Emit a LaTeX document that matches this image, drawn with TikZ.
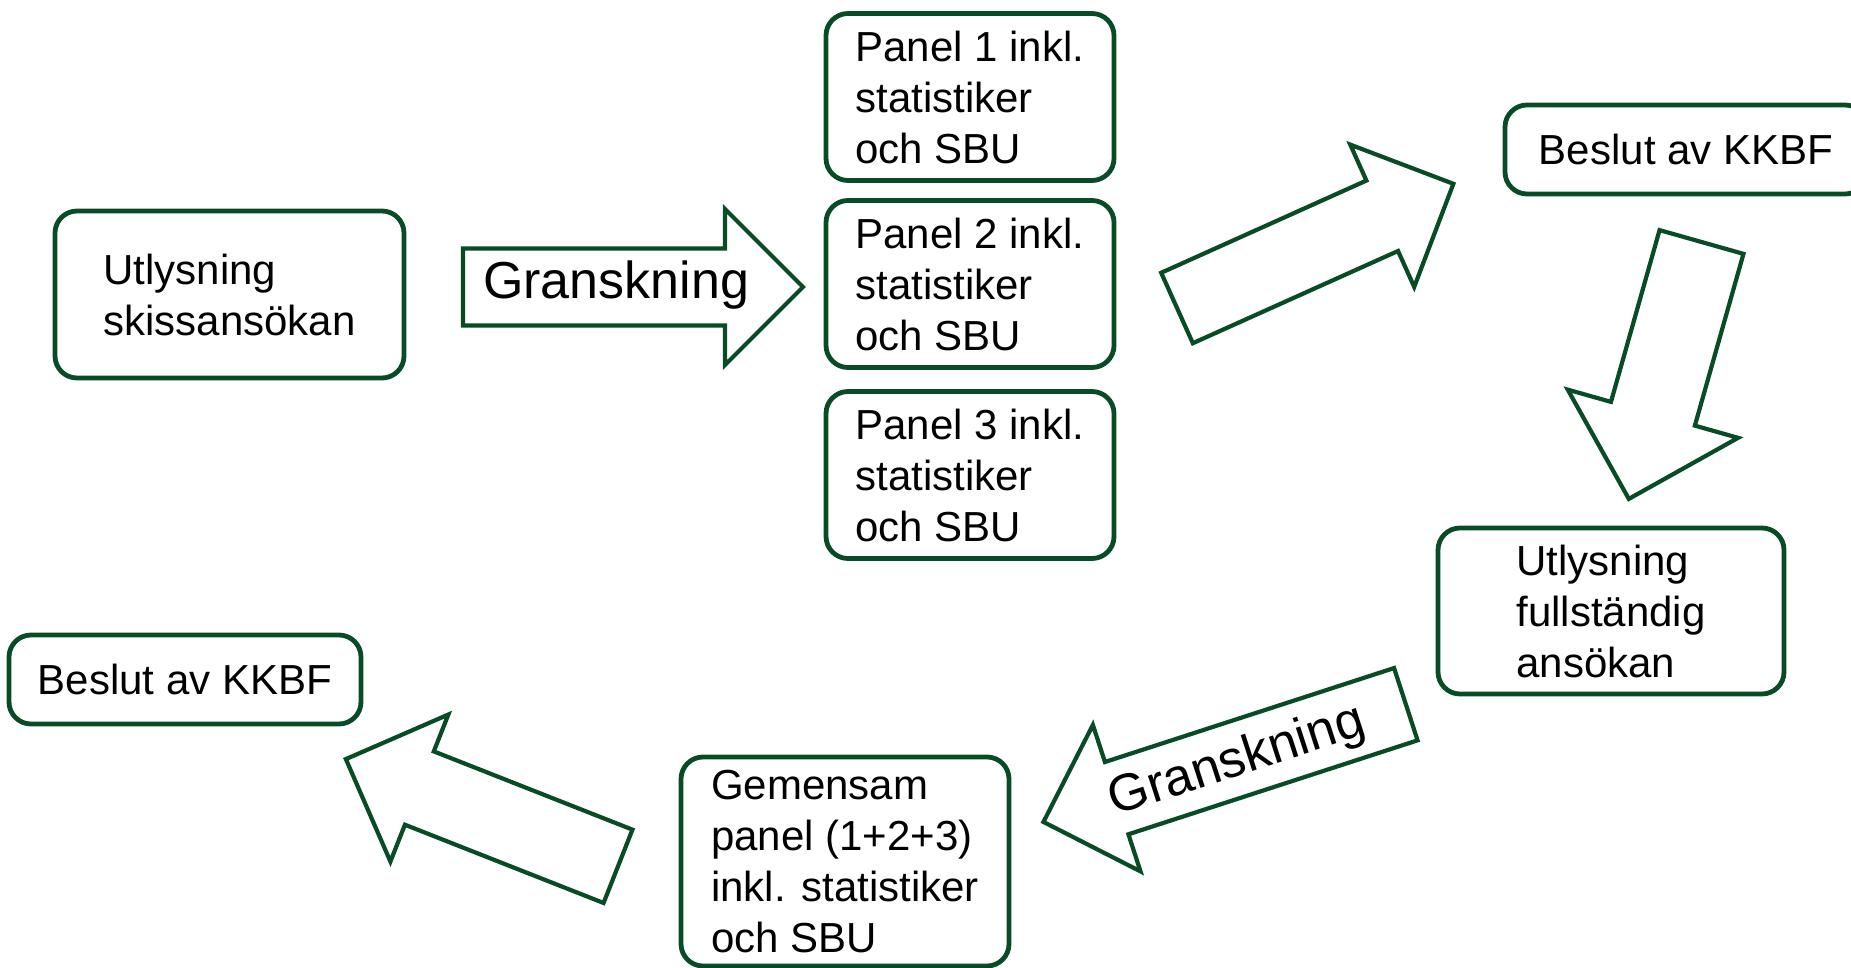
\documentclass[tikz,border=0pt]{standalone}
\usepackage{fontspec}
\setmainfont{Liberation Sans}
\usepackage{xcolor}
\usetikzlibrary{positioning}
\definecolor{boxgreen}{RGB}{8,76,38}
\tikzset{
  stepbox/.style={
      draw=boxgreen,
      line width=2.4pt,
      rounded corners=11pt,
      align=left,
      inner sep=0pt,
      font=\fontsize{21}{25.5}\selectfont
    },
  panelbox/.style={
      stepbox,
      minimum width=144pt,
      minimum height=83.5pt
    },
  arrowtext/.style={font=\fontsize{26}{30}\selectfont},
  pics/blockpil/.style args={#1/#2/#3}{
      code={
          \draw[draw=boxgreen,line width=2.1pt,line join=miter]
          (0,-#2) -- (#1-#3,-#2) -- (#1-#3,-#3) -- (#1,0)
          -- (#1-#3,#3) -- (#1-#3,#2) -- (0,#2) -- cycle;
        }
    }
}
\begin{document}
\begin{tikzpicture}[x=0.5pt,y=-0.5pt]
\useasboundingbox (0,0) rectangle (1851,968);
% the boxes
\node[stepbox,minimum width=174.5pt,minimum height=83.5pt]
  at (229.5,294.5) (skiss)
  {Utlysning\\skissansökan};
\foreach \Val/\Ypos in {1/97,2/284,3/475}
  \node[panelbox] at (970,\Ypos) (panel-\Val)
    {Panel \Val{} inkl.\\statistiker\\och SBU};
\node[stepbox,minimum width=181pt,minimum height=44.5pt]
  at (1686,149.5) (beslut-1)
  {Beslut av KKBF};
\node[stepbox,minimum width=173pt,minimum height=83pt]
  at (1611,611) (fullst)
  {Utlysning\\fullständig\\ansökan};
\node[stepbox,minimum width=164pt,minimum height=104.5pt]
  at (845,861.5) (gemensam)
  {Gemensam\\panel (1+2+3)\\inkl. statistiker\\och SBU};
\node[stepbox,minimum width=176pt,minimum height=44.5pt]
  at (185,679.5) (beslut-2)
  {Beslut av KKBF};

%the arrows
\pic at (463,287) {blockpil=340/38.5/78};
\pic[rotate=24.2] at (1177,308) {blockpil=303/38.6/78};
\pic[rotate=-105.8] at (1701.5,242) {blockpil=267/43.6/88.5};
\pic[rotate=198] at (1405.8,704.2) {blockpil=381/38/77};
\pic[rotate=158.5] at (618,866.3) {blockpil=292.5/39.4/79};
\node[arrowtext,anchor=base] at (616,299) (gransk-1) {Granskning};
\node[arrowtext,rotate=18] at (1237,762) (gransk-2) {Granskning};
\end{tikzpicture}
\end{document}
